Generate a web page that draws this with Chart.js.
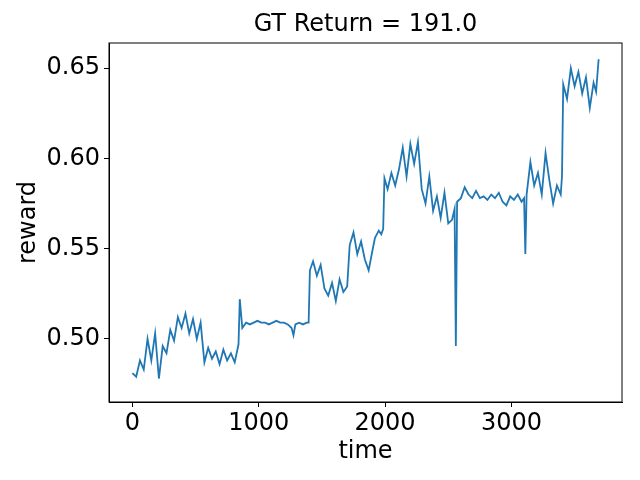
<!DOCTYPE html>
<html>
<head>
<meta charset="utf-8">
<script src="https://cdn.jsdelivr.net/npm/chart.js@4"></script>
<style>
  body { margin: 0; background: #fff; }
  #wrap { width: 640px; height: 480px; }
</style>
</head>
<body>
<div id="wrap"><canvas id="rewardchart"></canvas></div>
<script>
// values
var times = [0,30,60,90,120,150,180,210,240,270,300,330,360,390,420,450,480,510,540,570,
  600,630,660,690,720,750,780,810,840,850,870,900,930,960,990,1020,1050,1080,1110,1140,
  1170,1200,1230,1260,1275,1290,1320,1350,1380,1395,1405,1430,1460,1490,1520,1550,1580,1610,1640,1670,
  1700,1720,1750,1780,1810,1840,1870,1900,1920,1950,1970,1985,1995,2020,2050,2080,2110,2140,2170,2200,
  2230,2260,2290,2320,2350,2380,2410,2440,2470,2500,2530,2550,2560,2570,2600,2630,2660,2690,2720,2750,
  2780,2810,2840,2870,2900,2930,2960,2990,3020,3050,3080,3100,3110,3120,3150,3180,3210,3240,3270,3300,
  3330,3360,3390,3400,3410,3440,3470,3500,3530,3560,3590,3620,3650,3670,3690];
var reward = [0.481,0.479,0.488,0.483,0.500,0.488,0.503,0.478,0.496,0.492,0.505,0.499,0.512,0.506,0.514,0.503,0.511,0.500,0.509,0.487,
  0.495,0.489,0.493,0.486,0.494,0.488,0.492,0.487,0.497,0.522,0.506,0.509,0.508,0.509,0.510,0.509,0.509,0.508,0.509,0.510,
  0.509,0.509,0.508,0.506,0.502,0.508,0.509,0.508,0.509,0.509,0.538,0.543,0.535,0.541,0.528,0.524,0.531,0.521,0.533,0.526,
  0.529,0.552,0.559,0.547,0.554,0.544,0.538,0.549,0.556,0.560,0.558,0.561,0.589,0.583,0.592,0.585,0.594,0.606,0.590,0.608,
  0.597,0.609,0.583,0.575,0.590,0.571,0.579,0.567,0.581,0.564,0.566,0.572,0.496,0.576,0.578,0.584,0.580,0.578,0.582,0.578,
  0.579,0.577,0.580,0.578,0.581,0.576,0.574,0.579,0.577,0.580,0.576,0.578,0.547,0.580,0.598,0.585,0.592,0.580,0.603,0.588,
  0.575,0.585,0.580,0.590,0.641,0.633,0.650,0.640,0.648,0.636,0.645,0.628,0.642,0.637,0.655];
var xTicks = [0, 1000, 2000, 3000];
var yTicks = [0.50, 0.55, 0.60, 0.65];
var titleText = 'GT Return = 191.0';

var points = [];
for (var i = 0; i < times.length; i++) points.push({x: times[i], y: reward[i]});

// frame + title
var framePlugin = {
  id: 'frame',
  afterDraw: function(chart) {
    var c = chart.ctx, a = chart.chartArea;
    c.save();
    c.strokeStyle = '#000';
    c.lineWidth = 1;
    c.strokeRect(a.left, a.top, a.right - a.left, a.bottom - a.top);
    c.fillStyle = '#000';
    c.font = '24px "DejaVu Sans"';
    c.textAlign = 'center';
    c.textBaseline = 'middle';
    c.fillText(titleText, (a.left + a.right) / 2, 25);
    c.restore();
  }
};

var font = {family: '"DejaVu Sans"', size: 24};
new Chart(document.getElementById('rewardchart').getContext('2d'), {
  type: 'line',
  data: { datasets: [{ data: points, borderColor: '#1f77b4', borderWidth: 1.8, pointRadius: 0, tension: 0 }] },
  options: {
    responsive: true, maintainAspectRatio: false, animation: false,
    layout: { padding: { top: 43, right: 18, left: 0, bottom: 0 } },
    plugins: { legend: { display: false }, tooltip: { enabled: false } },
    scales: {
      x: {
        type: 'linear', min: -185, max: 3875,
        afterBuildTicks: function(s) { s.ticks = xTicks.map(function(v){ return {value: v}; }); },
        afterFit: function(s) { s.height = 78; },
        grid: { drawOnChartArea: false, color: '#000', tickLength: 5 },
        border: { color: '#000' },
        ticks: { color: '#000', font: font, padding: 2, callback: function(v){ return String(v); } },
        title: { display: true, text: 'time', color: '#000', font: font, padding: { top: 0, bottom: 14 } }
      },
      y: {
        min: 0.465, max: 0.664,
        afterBuildTicks: function(s) { s.ticks = yTicks.map(function(v){ return {value: v}; }); },
        afterFit: function(s) { s.width = 109; },
        grid: { drawOnChartArea: false, color: '#000', tickLength: 5 },
        border: { color: '#000' },
        ticks: { color: '#000', font: font, padding: 4, callback: function(v){ return v.toFixed(2); } },
        title: { display: true, text: 'reward', color: '#000', font: font, padding: { top: 14, bottom: 0 } }
      }
    }
  },
  plugins: [framePlugin]
});
</script>
</body>
</html>
